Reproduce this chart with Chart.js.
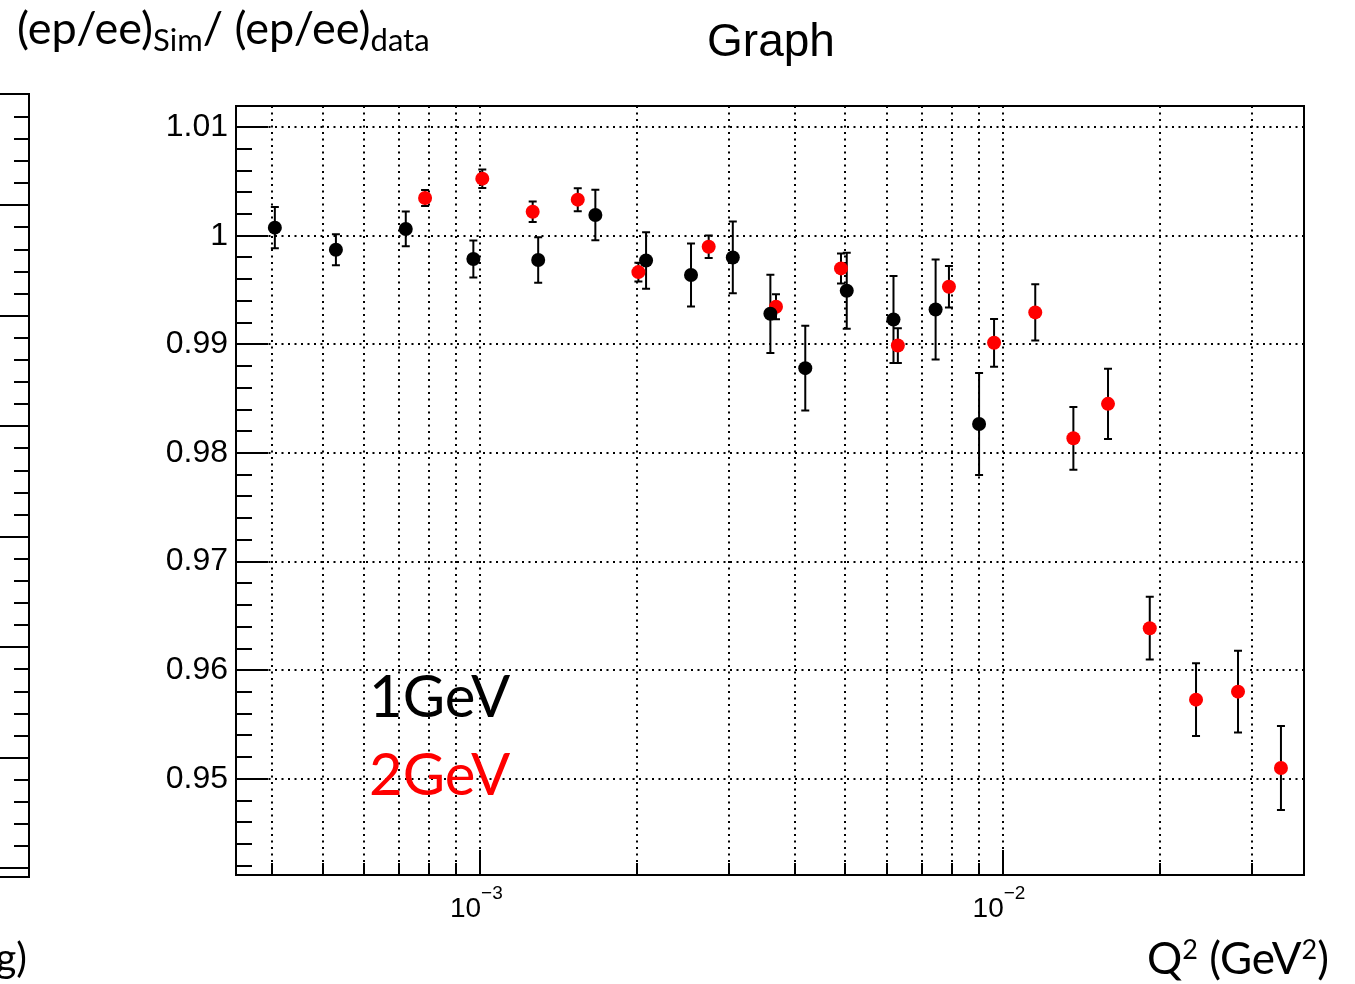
<!DOCTYPE html>
<html>
<head>
<meta charset="utf-8">
<script src="https://cdn.jsdelivr.net/npm/chart.js@4/dist/chart.umd.min.js"></script>
<style>
  html, body { margin: 0; padding: 0; background: #fff; }
  canvas { display: block; }
</style>
</head>
<body>
<canvas id="c" width="1355" height="984"></canvas>
<script>
// ---- data ----
const q2_1GeV  = [4.05e-4, 5.30e-4, 7.21e-4, 9.71e-4, 1.292e-3, 1.662e-3, 2.078e-3, 2.533e-3, 3.045e-3, 3.593e-3, 4.19e-3, 5.03e-3, 6.18e-3, 7.44e-3, 9.01e-3];
const ratio_1GeV = [1.00074, 0.99871, 1.00062, 0.99785, 0.99776, 1.00191, 0.99772, 0.99638, 0.99800, 0.99281, 0.98781, 0.99493, 0.99229, 0.99321, 0.98267];
const err_1GeV = [0.0019, 0.00143, 0.0016, 0.0017, 0.0021, 0.00233, 0.0026, 0.0029, 0.0033, 0.0036, 0.0039, 0.0035, 0.0040, 0.0046, 0.0047];

const q2_2GeV  = [7.85e-4, 1.010e-3, 1.261e-3, 1.538e-3, 2.009e-3, 2.738e-3, 3.683e-3, 4.904e-3, 6.30e-3, 7.89e-3, 9.625e-3, 1.154e-2, 1.365e-2, 1.590e-2, 1.911e-2, 2.343e-2, 2.819e-2, 3.406e-2];
const ratio_2GeV = [1.00347, 1.00525, 1.00221, 1.00332, 0.99665, 0.99899, 0.99346, 0.99699, 0.98989, 0.99530, 0.99014, 0.99294, 0.98135, 0.98452, 0.96387, 0.95729, 0.95803, 0.95100];
const err_2GeV = [0.00074, 0.00085, 0.00095, 0.00106, 0.00086, 0.00104, 0.00115, 0.00138, 0.0016, 0.0019, 0.0022, 0.00258, 0.00289, 0.00323, 0.00289, 0.00335, 0.00377, 0.00387];

const seriesLabels = ['1GeV', '2GeV'];
const xGridValues = [4e-4, 5e-4, 6e-4, 7e-4, 8e-4, 9e-4, 1e-3, 2e-3, 3e-3, 4e-3, 5e-3, 6e-3, 7e-3, 8e-3, 9e-3, 1e-2, 2e-2, 3e-2];
const xDecadeLabels = [{value: 1e-3, exp: '\u22123'}, {value: 1e-2, exp: '\u22122'}];
const yMajorTicks = [0.95, 0.96, 0.97, 0.98, 0.99, 1.00, 1.01];
const xRange = [3.413e-4, 0.0377];
const yRange = [0.94115, 1.01194];

const HELV = '"Liberation Sans", Arial, sans-serif';
const CAL = 'Lato, "Open Sans", sans-serif';

function makePoints(xs, ys) { return xs.map((x, i) => ({x: x, y: ys[i]})); }

const errorBars = {
  id: 'errorBars',
  beforeDatasetsDraw(chart) {
    const ctx = chart.ctx, xs = chart.scales.x, ys = chart.scales.y;
    const sets = [[q2_2GeV, ratio_2GeV, err_2GeV], [q2_1GeV, ratio_1GeV, err_1GeV]];
    ctx.save();
    ctx.strokeStyle = '#000';
    ctx.lineWidth = 2;
    sets.forEach(([X, Y, E]) => {
      X.forEach((xv, i) => {
        const px = xs.getPixelForValue(xv);
        const top = ys.getPixelForValue(Y[i] + E[i]);
        const bot = ys.getPixelForValue(Y[i] - E[i]);
        ctx.beginPath();
        ctx.moveTo(px, top); ctx.lineTo(px, bot);
        ctx.moveTo(px - 4, top); ctx.lineTo(px + 4, top);
        ctx.moveTo(px - 4, bot); ctx.lineTo(px + 4, bot);
        ctx.stroke();
      });
    });
    ctx.restore();
  }
};

function drawRich(ctx, x, y, parts) {
  let cx = x;
  parts.forEach(p => {
    ctx.font = p.size + 'px ' + p.family;
    ctx.fillText(p.t, cx, y + (p.dy || 0));
    cx += ctx.measureText(p.t).width;
  });
  return cx;
}

const decor = {
  id: 'decor',
  beforeDraw(chart) {
    const ctx = chart.ctx;
    ctx.save();
    ctx.fillStyle = '#fff';
    ctx.fillRect(0, 0, chart.width, chart.height);
    ctx.restore();
  },
  afterDraw(chart) {
    const ctx = chart.ctx, a = chart.chartArea, xs = chart.scales.x, ys = chart.scales.y;
    ctx.save();
    ctx.strokeStyle = '#000';
    ctx.fillStyle = '#000';
    // y ticks (inside, left only)
    ctx.lineWidth = 2;
    ctx.beginPath();
    for (let k = 471; k <= 505; k++) {
      const v = k * 0.002;
      if (v < yRange[0] || v > yRange[1]) continue;
      const py = Math.round(ys.getPixelForValue(v));
      const major = (k % 5 === 0);
      ctx.moveTo(a.left, py);
      ctx.lineTo(a.left + (major ? 32 : 16), py);
    }
    // x ticks (inside, bottom only)
    xGridValues.forEach(v => {
      const px = Math.round(xs.getPixelForValue(v));
      const major = xDecadeLabels.some(d => d.value === v);
      ctx.moveTo(px, a.bottom);
      ctx.lineTo(px, a.bottom - (major ? 25 : 12));
    });
    ctx.stroke();
    // frame
    ctx.lineWidth = 2;
    ctx.strokeRect(a.left, a.top, a.right - a.left, a.bottom - a.top);

    // x decade labels
    ctx.textBaseline = 'alphabetic';
    xDecadeLabels.forEach(d => {
      const px = xs.getPixelForValue(d.value);
      ctx.font = '28px ' + HELV;
      ctx.textAlign = 'right';
      ctx.fillText('10', px + 1, 917);
      ctx.font = '19px ' + HELV;
      ctx.textAlign = 'left';
      ctx.fillText(d.exp, px + 1, 899);
    });

    // title
    ctx.textAlign = 'center';
    ctx.font = '46px ' + HELV;
    ctx.fillText('Graph', 771, 56);

    // legend texts
    ctx.textAlign = 'left';
    ctx.font = '58px ' + CAL;
    ctx.fillStyle = '#000';
    ctx.fillText(seriesLabels[0], 369, 717);
    ctx.fillStyle = '#ff0000';
    ctx.fillText(seriesLabels[1], 369, 795);

    // y axis title (top-left)
    ctx.fillStyle = '#000';
    drawRich(ctx, 17, 44, [
      {t: '(ep/ee)', size: 45, family: CAL},
      {t: 'Sim', size: 31, family: CAL, dy: 7},
      {t: '/ (ep/ee)', size: 45, family: CAL},
      {t: 'data', size: 31, family: CAL, dy: 7}
    ]);
    // x axis title (bottom-right)
    drawRich(ctx, 1147, 974, [
      {t: 'Q', size: 44, family: CAL},
      {t: '2', size: 27, family: CAL, dy: -15},
      {t: ' (GeV', size: 44, family: CAL},
      {t: '2', size: 27, family: CAL, dy: -15},
      {t: ')', size: 44, family: CAL}
    ]);
    // cut-off neighbour panel on the left edge
    ctx.lineWidth = 2;
    ctx.beginPath();
    ctx.moveTo(0, 94); ctx.lineTo(29, 94); ctx.lineTo(29, 877); ctx.lineTo(0, 877);
    ctx.stroke();
    ctx.beginPath();
    for (let i = -4; i <= 30; i++) {
      const py = Math.round(205.3 + i * 22.1);
      if (py < 100 || py > 872) continue;
      ctx.moveTo(29, py); ctx.lineTo(i % 5 === 0 ? 0 : 14, py);
    }
    ctx.stroke();
    ctx.font = '40px ' + CAL;
    ctx.textAlign = 'right';
    ctx.fillText('g)', 27, 972);
    ctx.restore();
  }
};

new Chart(document.getElementById('c'), {
  type: 'scatter',
  data: {
    datasets: [
      {label: seriesLabels[0], data: makePoints(q2_1GeV, ratio_1GeV), backgroundColor: '#000', borderWidth: 0, pointRadius: 7, pointHoverRadius: 7},
      {label: seriesLabels[1], data: makePoints(q2_2GeV, ratio_2GeV), backgroundColor: '#ff0000', borderWidth: 0, pointRadius: 7, pointHoverRadius: 7}
    ]
  },
  options: {
    responsive: false,
    animation: false,
    devicePixelRatio: 1,
    layout: {padding: {left: 0, top: 106, right: 51, bottom: 0}},
    plugins: {legend: {display: false}, tooltip: {enabled: false}, title: {display: false}},
    scales: {
      x: {
        type: 'logarithmic',
        bounds: 'data',
        min: xRange[0], max: xRange[1],
        afterBuildTicks: s => { s.ticks = xGridValues.map(v => ({value: v})); s.min = xRange[0]; s.max = xRange[1]; },
        afterFit: s => { s.height = 109; },
        ticks: {autoSkip: false, maxRotation: 0, callback: () => ''},
        grid: {color: '#000', lineWidth: 2, drawTicks: false},
        border: {display: false, dash: [2, 4.5]}
      },
      y: {
        type: 'linear',
        bounds: 'data',
        min: yRange[0], max: yRange[1],
        afterBuildTicks: s => { s.ticks = yMajorTicks.map(v => ({value: v})); s.min = yRange[0]; s.max = yRange[1]; },
        afterFit: s => { s.width = 236; },
        ticks: {
          padding: 8, color: '#000',
          font: {family: HELV, size: 32},
          callback: v => String(+v.toFixed(2))
        },
        grid: {color: '#000', lineWidth: 2, drawTicks: false},
        border: {display: false, dash: [2, 4.5]}
      }
    }
  },
  plugins: [errorBars, decor]
});
</script>
</body>
</html>
